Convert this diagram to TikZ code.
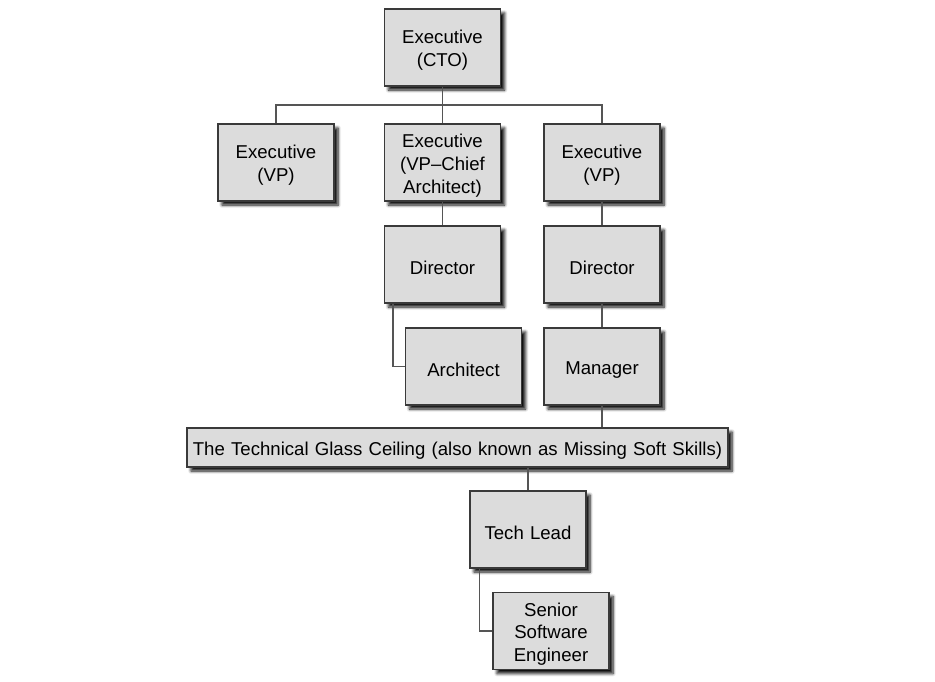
\documentclass[tikz,border=0pt]{standalone}
\usepackage{fontspec}
\setmainfont{Liberation Sans}
\usetikzlibrary{shadows.blur}
\definecolor{boxfill}{HTML}{DCDCDC}
\definecolor{boxline}{HTML}{3A3A3A}
\definecolor{connline}{HTML}{555555}
\newcommand\toplift{\rule{0pt}{19.5pt}}
\begin{document}
\begin{tikzpicture}[x=1pt,y=-1pt,
  orgbox/.style={draw=boxline, line width=1.1pt, fill=boxfill, minimum width=116pt, minimum height=77pt,
    text width=112pt, align=center, inner sep=2pt, font=\fontsize{18.6}{22.8}\selectfont,
    blur shadow={shadow xshift=4pt, shadow yshift=-4pt, shadow blur steps=6, shadow blur radius=3pt, shadow opacity=95}},
  conn/.style={draw=connline, line width=1.4pt}]
\useasboundingbox (0,0) rectangle (935,681);
\node[orgbox] (cto) at (442.5,47.5) {\toplift Executive\\(CTO)};
\node[orgbox] (vp1) at (276,162.5) {\toplift Executive\\(VP)};
\node[orgbox] (chief) at (442.5,162.5) {\toplift Executive\\(VP--Chief\\Architect)};
\node[orgbox] (vp2) at (602,162.5) {\toplift Executive\\(VP)};
\node[orgbox] (dir1) at (442.5,264.5) {\toplift Director};
\node[orgbox] (dir2) at (602,264.5) {\toplift Director};
\node[orgbox] (arch) at (463.5,366.5) {\toplift Architect};
\node[orgbox] (mgr) at (602,366.5) {\toplift Manager};
\node[orgbox, minimum width=541pt, minimum height=39pt, text width=537pt] (glass) at (457.5,447.5) {\toplift The Technical Glass Ceiling (also known as Missing Soft Skills)};
\node[orgbox] (tl) at (528,529.5) {\toplift Tech Lead};
\node[orgbox] (sse) at (551,631) {\toplift Senior\\Software\\Engineer};
\coordinate (bus) at (442.5,105);
\draw[conn] (cto.south) -- (chief.north);
\draw[conn] (vp1.north) |- (bus) -| (vp2.north);
\draw[conn] (chief.south) -- (dir1.north);
\draw[conn] (vp2.south) -- (dir2.north);
\draw[conn] (dir2.south) -- (mgr.north);
\draw[conn] ([xshift=-49.5pt]dir1.south) |- (arch.west);
\draw[conn] (mgr.south) -- (mgr.south |- glass.north);
\draw[conn] (tl.north |- glass.south) -- (tl.north);
\draw[conn] ([xshift=-48.7pt]tl.south) |- (sse.west);
\end{tikzpicture}
\end{document}
